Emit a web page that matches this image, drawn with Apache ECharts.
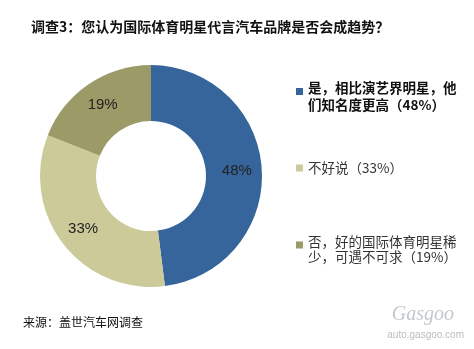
<!DOCTYPE html>
<html><head><meta charset="utf-8">
<script src="https://cdn.jsdelivr.net/npm/echarts@6/dist/echarts.min.js"></script>
<style>html,body{margin:0;padding:0;background:#fff}#c{width:474px;height:349px}</style>
</head><body><div id="c"></div>
<script>
const categories = ['是，相比演艺界明星，他\n们知名度更高（48%）', '不好说（33%）', '否，好的国际体育明星稀\n少，可遇不可求（19%）'];
const values = [48, 33, 19];
const colors = ['#35659a', '#cbca98', '#9c9a67'];
const titleText = '调查3：您认为国际体育明星代言汽车品牌是否会成趋势？';
const sourceText = '来源：盖世汽车网调查';

const font = '"Noto Sans CJK SC", sans-serif';
const chart = echarts.init(document.getElementById('c'));
function mkLegend(i, top, lh, bold, iconPath, ih) {
  return {
    orient: 'vertical', left: 296, top: top, padding: 0,
    itemWidth: 7, itemHeight: ih, icon: iconPath,
    data: [categories[i]],
    textStyle: {fontFamily: font, fontSize: 13.5, lineHeight: lh,
      fontWeight: bold ? 'bold' : 'normal', color: bold ? '#111' : '#333'}
  };
}
chart.setOption({
  backgroundColor: '#fff',
  animation: false,
  title: {
    text: titleText, left: 26, top: 15,
    textStyle: {fontFamily: font, fontSize: 14, fontWeight: 'bold', color: '#111'}
  },
  legend: [
    mkLegend(0, 79.5, 17, true, 'path://M0,0h7v7h-7z M0,16.9h0.01v0.01h-0.01z', 17),
    mkLegend(1, 159.5, 17, false, 'rect', 7),
    mkLegend(2, 234, 15, false, 'path://M0,0h7v7h-7z M0,14.9h0.01v0.01h-0.01z', 15)
  ],
  graphic: [
    {type: 'text', left: 23, top: 316, style: {text: sourceText, font: '12px ' + font, fill: '#111'}},
    {type: 'text', right: 20, top: 305, style: {text: 'Gasgoo', font: 'italic 20px "Liberation Serif", serif', fill: '#c4c8cc'}},
    {type: 'text', right: 10, top: 330, style: {text: 'auto.gasgoo.com', font: '10px "Liberation Sans", sans-serif', fill: '#b8bcc0'}}
  ],
  series: [{
    type: 'pie',
    center: [151, 176],
    radius: [55, 111],
    startAngle: 90,
    clockwise: true,
    label: {
      position: 'inside', formatter: '{c}%',
      fontFamily: '"Liberation Sans", Arial, sans-serif', fontSize: 15, color: '#222'
    },
    labelLine: {show: false},
    data: categories.map((n, i) => ({name: n, value: values[i], itemStyle: {color: colors[i]}}))
  }]
});
</script></body></html>
